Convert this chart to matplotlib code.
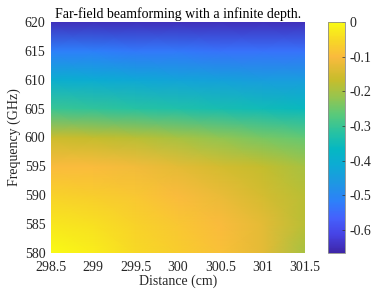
import numpy as np
import matplotlib
matplotlib.use("Agg")
import matplotlib.pyplot as plt
from matplotlib.colors import LinearSegmentedColormap

plt.rcParams['font.family'] = ['Liberation Serif', 'DejaVu Serif']
plt.rcParams['mathtext.fontset'] = 'stix'

distance = [298.5, 299.0, 299.5, 300.0, 300.5, 301.0, 301.5]
frequency = [580, 585, 590, 595, 600, 605, 610, 615, 620]
values = [
    [0.00, -0.02, -0.05, -0.07, -0.09, -0.13, -0.20],   # 580
    [-0.03, -0.04, -0.06, -0.08, -0.10, -0.13, -0.18],  # 585
    [-0.06, -0.07, -0.08, -0.10, -0.12, -0.15, -0.18],  # 590
    [-0.10, -0.10, -0.11, -0.13, -0.15, -0.17, -0.20],  # 595
    [-0.16, -0.17, -0.18, -0.20, -0.22, -0.24, -0.26],  # 600
    [-0.30, -0.31, -0.32, -0.33, -0.34, -0.35, -0.36],  # 605
    [-0.40, -0.41, -0.42, -0.43, -0.44, -0.45, -0.45],  # 610
    [-0.52, -0.52, -0.53, -0.53, -0.54, -0.54, -0.54],  # 615
    [-0.65, -0.65, -0.65, -0.65, -0.65, -0.65, -0.65],  # 620
]
vmin, vmax = -0.667, 0.0
x_ticks = [298.5, 299, 299.5, 300, 300.5, 301, 301.5]
x_tick_labels = ['298.5', '299', '299.5', '300', '300.5', '301', '301.5']
y_ticks = [580, 585, 590, 595, 600, 605, 610, 615, 620]
cb_ticks = [0, -0.1, -0.2, -0.3, -0.4, -0.5, -0.6]
cb_tick_labels = ['0', '-0.1', '-0.2', '-0.3', '-0.4', '-0.5', '-0.6']

parula_anchors = [
    (0.00, (0.2422, 0.1504, 0.6603)),
    (0.08, (0.2750, 0.2650, 0.9000)),
    (0.15, (0.2700, 0.3800, 0.9900)),
    (0.22, (0.1800, 0.5000, 0.9800)),
    (0.30, (0.1200, 0.5900, 0.8900)),
    (0.38, (0.0500, 0.6700, 0.8300)),
    (0.45, (0.0200, 0.7200, 0.7600)),
    (0.52, (0.1500, 0.7600, 0.6400)),
    (0.60, (0.3500, 0.7900, 0.4800)),
    (0.68, (0.6000, 0.7700, 0.3000)),
    (0.75, (0.7800, 0.7400, 0.1700)),
    (0.85, (0.9800, 0.7300, 0.2400)),
    (0.92, (0.9700, 0.8400, 0.1500)),
    (1.00, (0.9769, 0.9839, 0.0805)),
]
parula = LinearSegmentedColormap.from_list('parula', parula_anchors, N=256)

fig = plt.figure(figsize=(3.73, 2.93), dpi=100)
ax = fig.add_axes([51/373, 40/293, 254/373, 231/293])
X, Y = np.meshgrid(distance, frequency)
mesh = ax.pcolormesh(X, Y, np.array(values), shading='gouraud', cmap=parula,
                     vmin=vmin, vmax=vmax, rasterized=True)
ax.set_xlim(298.5, 301.5)
ax.set_ylim(580, 620)
ax.set_xticks(x_ticks)
ax.set_xticklabels(x_tick_labels)
ax.set_yticks(y_ticks)
for s in ax.spines.values():
    s.set_visible(False)
ax.tick_params(length=0, labelsize=10, colors='#262626')
ax.tick_params(axis='x', pad=6)
ax.tick_params(axis='y', pad=4)
ax.set_xlabel('Distance (cm)', fontsize=10, labelpad=0, color='#262626')
ax.set_ylabel('Frequency (GHz)', fontsize=10, labelpad=3, color='#262626')
ax.set_title('Far-field beamforming with a infinite depth.', fontsize=10, pad=3)

cax = fig.add_axes([328/373, 40/293, 17/373, 231/293])
cb = fig.colorbar(mesh, cax=cax)
cb.set_ticks(cb_ticks)
cb.set_ticklabels(cb_tick_labels)
cb.outline.set_edgecolor('#8c8c8c')
cb.outline.set_linewidth(0.6)
cax.tick_params(labelsize=10, length=2, width=0.5, direction='in', pad=3, colors='#333333')
for t in cax.get_yticklabels():
    t.set_color('#262626')

fig.savefig('out.png', dpi=100)
